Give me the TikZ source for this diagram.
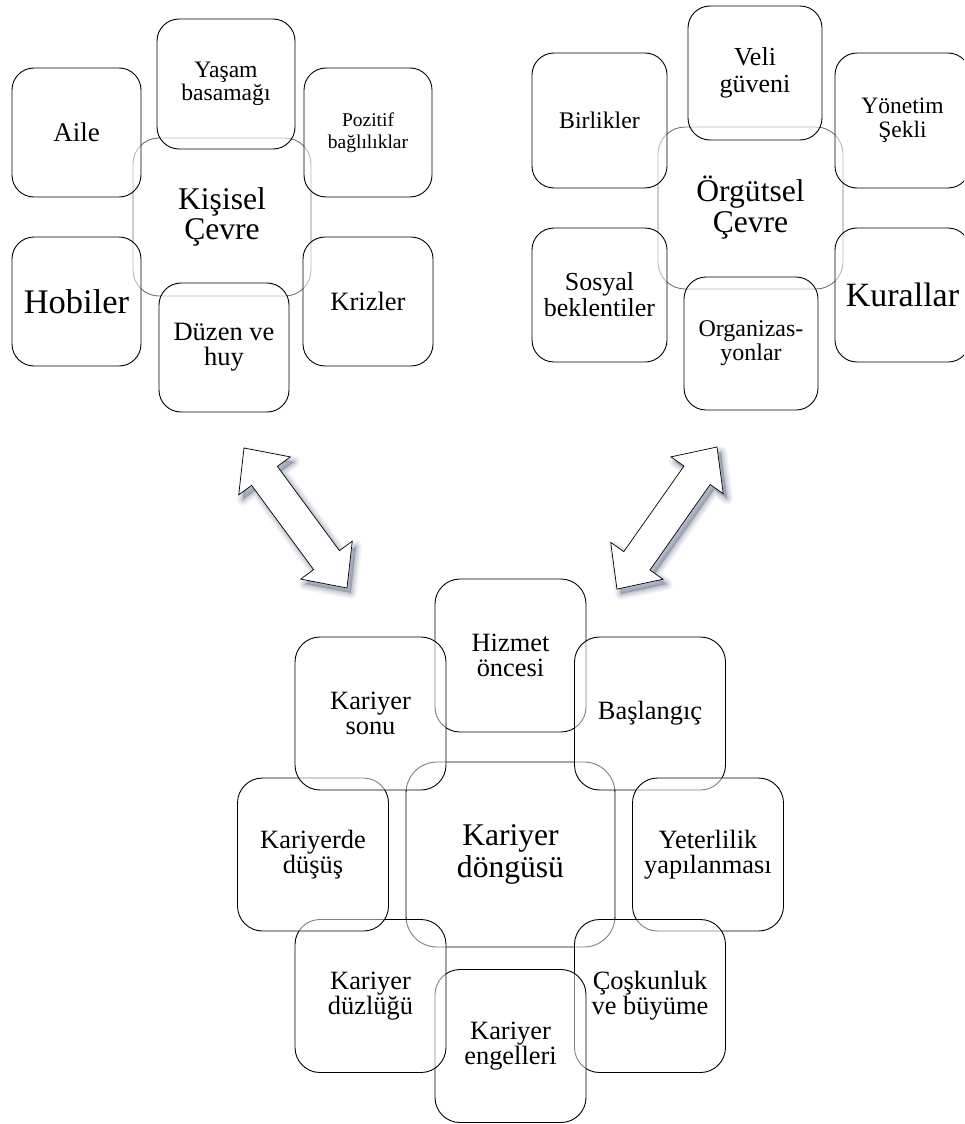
\documentclass[tikz,border=0pt]{standalone}
\usepackage{fontspec}
\setmainfont{Liberation Serif}
\definecolor{shc}{RGB}{45,60,95}
\newcommand\fsz[2]{\fontsize{#1pt}{#2pt}\selectfont}
\newcommand\arrowpts{(0,0) -- (34.6,-32) -- (34.6,-16) -- (139.2,-16) -- (139.2,-32) -- (173.8,0) -- (139.2,32) -- (139.2,16) -- (34.6,16) -- (34.6,32) -- cycle}
\tikzset{
  bx/.style={draw=black, line width=0.9pt, fill=white, fill opacity=0.5, text opacity=1,
    align=center, inner sep=0pt, rounded corners=22pt},
  bbx/.style={bx, minimum width=151pt, minimum height=153pt, rounded corners=25pt, font=\fsz{26.4}{25}},
  cbx/.style={bx, draw=black!55},
  arr/.style={draw=black, line width=0.7pt, fill=white, line join=miter},
}
\begin{document}
\begin{tikzpicture}[x=1pt,y=-1pt]
\useasboundingbox (0,0) rectangle (964,1124);
\clip (0,0) rectangle (964,1124);

% ---------- Kisisel Cevre ----------
\node[cbx, minimum width=178pt, minimum height=158pt, rounded corners=26pt, font=\fsz{31.6}{30}] (kc) at (222,217) {Kişisel\\Çevre};
\node[bx, minimum width=129pt, minimum height=129pt, font=\fsz{27}{27}] (aile) at (76.5,132.5) {Aile};
\node[bx, minimum width=138pt, minimum height=130pt, font=\fsz{23.6}{23}] (yasam) at (226,84) {Yaşam\\basamağı};
\node[bx, minimum width=128pt, minimum height=129pt, font=\fsz{19.5}{22}] (poz) at (368,132.5) {Pozitif\\bağlılıklar};
\node[bx, minimum width=130pt, minimum height=129pt, font=\fsz{26.5}{26}] (kriz) at (368,301.5) {Krizler};
\node[bx, minimum width=130pt, minimum height=129pt, font=\fsz{26.5}{25}] (duzen) at (224,347.5) {Düzen ve\\huy};
\node[bx, minimum width=129pt, minimum height=129pt, font=\fsz{34.5}{34}] (hob) at (76.5,301.5) {Hobiler};

% ---------- Orgutsel Cevre ----------
\node[cbx, minimum width=185pt, minimum height=162pt, rounded corners=27pt, font=\fsz{31.6}{31}] (oc) at (750.5,208) {Örgütsel\\Çevre};
\node[bx, minimum width=134pt, minimum height=134pt, font=\fsz{26}{27}] (veli) at (755,73) {Veli\\güveni};
\node[bx, minimum width=135pt, minimum height=135pt, font=\fsz{23.5}{24}] (yon) at (902.5,120.5) {Yönetim\\Şekli};
\node[bx, minimum width=135pt, minimum height=134pt, font=\fsz{34}{34}] (kur) at (902.5,295) {Kurallar};
\node[bx, minimum width=134pt, minimum height=133pt, font=\fsz{24}{24}] (org) at (751,343.5) {Organizas-\\yonlar};
\node[bx, minimum width=135pt, minimum height=134pt, font=\fsz{26}{26}] (sos) at (599.5,295) {Sosyal\\beklentiler};
\node[bx, minimum width=135pt, minimum height=135pt, font=\fsz{23.8}{24}] (birl) at (599.5,120.5) {Birlikler};

% ---------- Kariyer dongusu ----------
\node[bx, minimum width=209pt, minimum height=185pt, rounded corners=31pt, font=\fsz{31.6}{32}] (kd) at (510.5,854.5) {Kariyer\\döngüsü};
\node[bbx] (hiz) at (510.5,655.5) {Hizmet\\öncesi};
\node[bbx] (bas) at (650,713.5) {Başlangıç};
\node[bbx] (yet) at (708,854.5) {Yeterlilik\\yapılanması};
\node[bbx] (cos) at (650,996) {Çoşkunluk\\ve büyüme};
\node[bbx] (eng) at (510.5,1046) {Kariyer\\engelleri};
\node[bbx] (duz) at (370.5,996) {Kariyer\\düzlüğü};
\node[bbx] (dus) at (313,854.5) {Kariyerde\\düşüş};
\node[bbx] (son) at (370.5,713.5) {Kariyer\\sonu};

% ---------- block arrows ----------
% left arrow
\begin{scope}[shift={(248,453)}, x={(0.5926pt,-0.8055pt)}, y={(-0.8055pt,-0.5926pt)}]
  \foreach \w/\o in {12/0.05, 9/0.07, 6/0.08, 3/0.1} {
    \draw[shc, line width=\w pt, opacity=\o, line join=round] \arrowpts;
  }
  \fill[shc, opacity=0.3] \arrowpts;
\end{scope}
\begin{scope}[shift={(244,448)}, x={(0.5926pt,-0.8055pt)}, y={(-0.8055pt,-0.5926pt)}]
  \draw[arr] \arrowpts;
\end{scope}
% right arrow
\begin{scope}[shift={(721,452)}, x={(-0.5757pt,-0.8175pt)}, y={(0.8175pt,-0.5757pt)}]
  \foreach \w/\o in {12/0.05, 9/0.07, 6/0.08, 3/0.1} {
    \draw[shc, line width=\w pt, opacity=\o, line join=round] \arrowpts;
  }
  \fill[shc, opacity=0.3] \arrowpts;
\end{scope}
\begin{scope}[shift={(717,447)}, x={(-0.5757pt,-0.8175pt)}, y={(0.8175pt,-0.5757pt)}]
  \draw[arr] \arrowpts;
\end{scope}
\end{tikzpicture}
\end{document}
